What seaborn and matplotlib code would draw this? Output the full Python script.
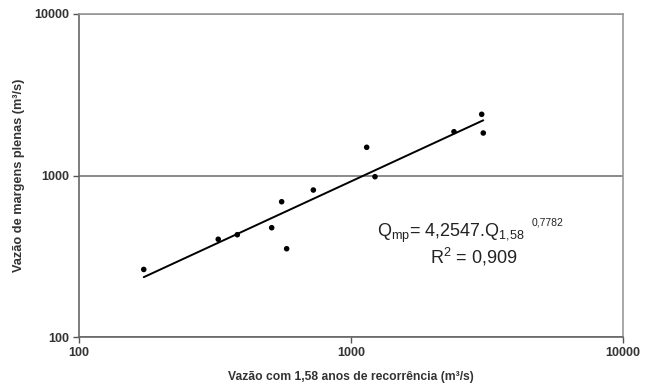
import numpy as np
import pandas as pd
import matplotlib
matplotlib.use("Agg")
import matplotlib.pyplot as plt
import seaborn as sns

# Data
q158 = [173, 325, 382, 511, 556, 580, 727, 1142, 1225, 2391, 3023, 3064]
qmp = [262, 403, 430, 475, 688, 352, 813, 1495, 983, 1867, 2393, 1833]
coef_a = 4.2547
coef_b = 0.7782
r2_text = "0,909"
x_ticks = [100, 1000, 10000]
y_ticks = [100, 1000, 10000]
x_label = "Vazão com 1,58 anos de recorrência (m³/s)"
y_label = "Vazão de margens plenas (m³/s)"

sns.set_theme(style="white")
plt.rcParams["font.family"] = ["Liberation Sans", "DejaVu Sans"]
plt.rcParams["mathtext.fontset"] = "custom"
plt.rcParams["mathtext.rm"] = "Liberation Sans"
plt.rcParams["mathtext.it"] = "Liberation Sans"

df = pd.DataFrame({"x": q158, "y": qmp})
xfit = np.geomspace(min(q158), max(q158), 50)
fit = pd.DataFrame({"x": xfit, "y": coef_a * xfit ** coef_b})

fig = plt.figure(figsize=(6.5, 3.88), dpi=100)
ax = fig.add_axes([79 / 650, 1 - 337 / 388, (623 - 79) / 650, (337 - 14) / 388])

sns.lineplot(data=fit, x="x", y="y", ax=ax, color="black", linewidth=1.4)
sns.scatterplot(data=df, x="x", y="y", ax=ax, color="black", s=16, edgecolor="none", zorder=3)

ax.set_xscale("log")
ax.set_yscale("log")
ax.set_xlim(100, 10000)
ax.set_ylim(100, 10000)
ax.set_xticks(x_ticks)
ax.set_yticks(y_ticks)
ax.set_xticklabels([str(t) for t in x_ticks])
ax.set_yticklabels([str(t) for t in y_ticks])
ax.minorticks_off()
ax.tick_params(axis="both", which="major", length=4, width=1, color="#555555",
               labelsize=9, labelcolor="#333333", pad=3, direction="out")
ax.tick_params(axis="x", bottom=True)
ax.tick_params(axis="y", left=True)
for lab in ax.get_xticklabels() + ax.get_yticklabels():
    lab.set_fontweight("bold")

ax.yaxis.grid(True, color="#777777", linewidth=1.2)
ax.xaxis.grid(False)
for side in ["left", "bottom"]:
    ax.spines[side].set_color("#666666")
    ax.spines[side].set_linewidth(1.2)
for side in ["top", "right"]:
    ax.spines[side].set_color("#999999")
    ax.spines[side].set_linewidth(1.2)

ax.set_xlabel(x_label, fontsize=8.7, fontweight="bold", color="#333333", labelpad=9)
ax.set_ylabel(y_label, fontsize=9.2, fontweight="bold", color="#333333", labelpad=7)

eq = r"Q$\mathregular{_{mp}}$= 4,2547.Q$\mathregular{_{1{,}58}}$"
ax.text(0.548, 0.3105, eq, transform=ax.transAxes, fontsize=13, color="#222222",
        ha="left", va="baseline")
ax.text(0.862, 0.353, "0,7782", transform=ax.transAxes, fontsize=7.5, color="#222222",
        ha="center", va="center")
ax.text(0.645, 0.229, r"R$\mathregular{^2}$ = " + r2_text, transform=ax.transAxes,
        fontsize=13, color="#222222", ha="left", va="baseline")

fig.savefig("out.png", dpi=100)
